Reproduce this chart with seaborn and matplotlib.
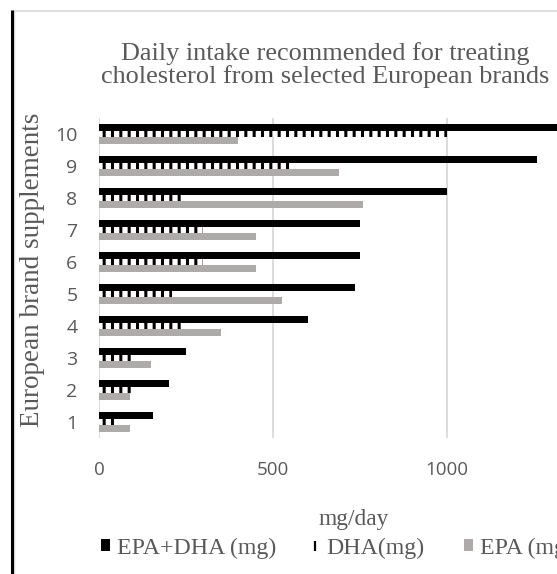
import matplotlib
matplotlib.use("Agg")
import matplotlib.pyplot as plt
from matplotlib.lines import Line2D
from matplotlib.patches import Patch
import seaborn as sns
import pandas as pd

# Omega-3 content per recommended daily dose, brands 1-10
brands = ["1", "2", "3", "4", "5", "6", "7", "8", "9", "10"]
epa_dha = [155, 200, 250, 600, 735, 750, 750, 1000, 1260, 1400]
dha = [50, 100, 100, 250, 210, 300, 300, 240, 560, 1000]
epa = [90, 90, 150, 350, 525, 450, 450, 760, 690, 400]
series = ["EPA+DHA (mg)", "DHA(mg)", "EPA (mg)"]
x_ticks = [0, 500, 1000]

sns.set_theme(style="white")
plt.rcParams["hatch.linewidth"] = 2.2
plt.rcParams["hatch.color"] = "black"

SERIF = ["Liberation Serif", "DejaVu Serif"]
SANS = ["Open Sans", "DejaVu Sans"]
TXT = "#595959"
GRID = "#D9D9D9"
COLORS = {series[0]: "#000000", series[1]: "#FFFFFF", series[2]: "#AEAAAA"}

df = pd.DataFrame({
    "brand": brands * 3,
    "mg": epa_dha + dha + epa,
    "series": [series[0]] * 10 + [series[1]] * 10 + [series[2]] * 10,
})

W, H = 557, 574
fig = plt.figure(figsize=(W / 100, H / 100), dpi=100)
ax = fig.add_axes([99 / W, 1 - 438 / H, 522 / W, 320 / H])

sns.barplot(data=df, x="mg", y="brand", hue="series", order=brands[::-1],
            hue_order=series, palette=COLORS, width=0.61, orient="h",
            saturation=1, legend=False, ax=ax)

for i, cont in enumerate(ax.containers):
    for p in cont:
        p.set_linewidth(0)
        if i == 1:
            p.set_hatch("||")
            p.set_edgecolor("black")
            p.set_facecolor("white")

ax.set_xlim(0, 1500)
ax.set_ylim(9.5, -0.5)
ax.set_xticks(x_ticks)
ax.grid(axis="x", color=GRID, linewidth=1.3)
ax.grid(axis="y", visible=False)
ax.set_axisbelow(True)
for s in ax.spines.values():
    s.set_visible(False)
ax.tick_params(axis="both", length=0, labelcolor=TXT, labelsize=13.5)
ax.tick_params(axis="y", labelsize=14, pad=15.5)
ax.tick_params(axis="x", pad=16.5)
for lab in ax.get_xticklabels() + ax.get_yticklabels():
    lab.set_fontfamily(SANS)
ax.set_xlabel("")
ax.set_ylabel("")

fig.text(325 / W, 1 - 65 / H,
         "Daily intake recommended for treating\ncholesterol from selected European brands",
         ha="center", va="center", fontsize=18.9, family=SERIF, color=TXT,
         linespacing=1.0)
fig.text(33 / W, 1 - 270 / H, "European brand supplements", rotation=90,
         ha="center", va="center", fontsize=19.5, family=SERIF, color=TXT)
fig.text(354 / W, 1 - 520 / H, "mg/day", ha="center", va="center",
         fontsize=16.8, family=SERIF, color=TXT)

# legend entries, one per series
handles = [
    Patch(facecolor=COLORS[series[0]], edgecolor="none"),
    Line2D([], [], linestyle="none", marker="|", markersize=6.5,
           markeredgewidth=1.6, color="black"),
    Patch(facecolor=COLORS[series[2]], edgecolor="none"),
]
for h, lab, x0 in zip(handles, series, [101, 310, 464]):
    fig.legend([h], [lab], loc="center left",
               bbox_to_anchor=(x0 / W, 1 - 548 / H), frameon=False,
               handlelength=0.38, handleheight=0.38, handletextpad=0.3,
               borderpad=0, borderaxespad=0,
               prop={"family": SERIF, "size": 17.2}, labelcolor=TXT)

# chart frame: light top/left border and dark left rule
fig.add_artist(Line2D([13 / W, 1], [1 - 10.5 / H, 1 - 10.5 / H],
                      transform=fig.transFigure, color=GRID, linewidth=1.2))
fig.add_artist(Line2D([13.8 / W, 13.8 / W], [0, 1 - 10.5 / H],
                      transform=fig.transFigure, color=GRID, linewidth=1.0))
fig.add_artist(Line2D([11.5 / W, 11.5 / W], [0, 1 - 10 / H],
                      transform=fig.transFigure, color="black", linewidth=2.2,
                      solid_capstyle="butt"))

fig.savefig("out.png", dpi=100)
